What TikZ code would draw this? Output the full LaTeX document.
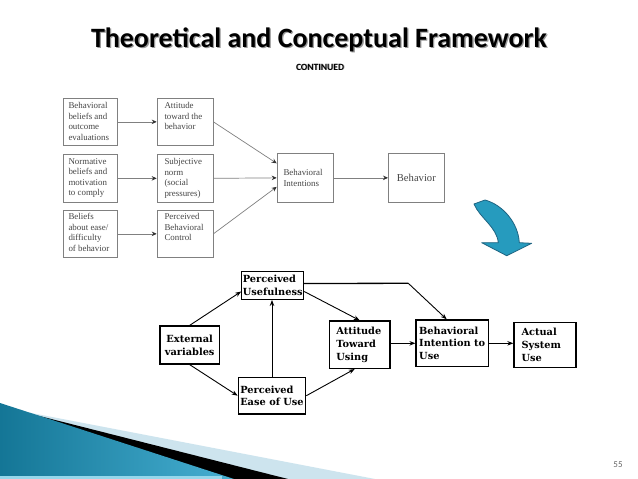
\documentclass[tikz,border=0pt]{standalone}
\usepackage{fontspec}
\setmainfont{Liberation Serif}
\newfontfamily\titlefont{Carlito}
\newfontfamily\boldserif{DejaVu Serif}
\usetikzlibrary{arrows.meta,calc}
\definecolor{arrowblue}{RGB}{38,155,190}
\definecolor{arrowdark}{RGB}{30,100,130}
\definecolor{decodark}{RGB}{20,118,150}
\definecolor{decolight}{RGB}{70,175,210}
\definecolor{decopale}{RGB}{205,228,238}
\definecolor{decocyan}{RGB}{150,215,235}
\definecolor{tgray}{RGB}{128,128,128}
\definecolor{ttxt}{RGB}{70,70,70}
\tikzset{
  tbox/.style={draw=tgray, line width=0.7pt, inner sep=0pt, anchor=north west},
  ttext/.style={font=\fontsize{8.9}{10.4}\selectfont, text=ttxt, align=left, inner sep=0pt, anchor=north west},
  tarr/.style={draw=tgray, line width=0.7pt, -{Stealth[length=5pt,width=4.5pt,color=black!80]}},
  bbox/.style={draw, line width=1.3pt, inner ysep=0pt, inner xsep=1pt, align=left,
    font=\boldserif\bfseries\fontsize{9.8}{12.7}\selectfont},
  barr/.style={line width=0.9pt, -{Stealth[length=6pt,width=4.5pt]}},
}
\begin{document}
\begin{tikzpicture}[x=1pt,y=-1pt]
\useasboundingbox (0,0) rectangle (638,479);
\fill[white] (0,0) rectangle (638,479);

% decoration bottom-left
\fill[decopale] (0,407) -- (375,479) -- (0,479) -- cycle;
\fill[black] (0,406) -- (288,479) -- (0,479) -- cycle;
\shade[left color=decodark, right color=decolight] (0,403) -- (234,479) -- (0,479) -- cycle;
\fill[decocyan] (0,475.5) rectangle (222,479);

% title
\node[font=\titlefont\bfseries\fontsize{28}{30}\selectfont, text=black!40, anchor=base] (titleshadow) at (320.3,48.3) {Theoretical and Conceptual Framework};
\node[font=\titlefont\bfseries\fontsize{28}{30}\selectfont, anchor=base] (title) at (319,47) {Theoretical and Conceptual Framework};
\node[font=\titlefont\bfseries\fontsize{9.5}{11}\selectfont, text=black!35, anchor=base] (contshadow) at (320.8,70.8) {CONTINUED};
\node[font=\titlefont\bfseries\fontsize{9.5}{11}\selectfont, anchor=base] (cont) at (320,70) {CONTINUED};

% top diagram
\node[tbox, minimum width=54pt, minimum height=47pt] (b1) at (62.7,98) {};
\node[ttext] (b1t) at ($(b1.north west)+(5.6,4.5)$) {Behavioral\\beliefs and\\outcome\\evaluations};
\node[tbox, minimum width=56pt, minimum height=47pt] (b2) at (156.7,98) {};
\node[ttext] (b2t) at ($(b2.north west)+(7.6,4.5)$) {Attitude\\toward the\\behavior};
\node[tbox, minimum width=54pt, minimum height=48pt] (n1) at (62.7,154) {};
\node[ttext] (n1t) at ($(n1.north west)+(5.6,4.5)$) {Normative\\beliefs and\\motivation\\to comply};
\node[tbox, minimum width=56pt, minimum height=48pt] (s2) at (156.7,154) {};
\node[ttext] (s2t) at ($(s2.north west)+(7.6,4.5)$) {Subjective\\norm\\(social\\pressures)};
\node[tbox, minimum width=54pt, minimum height=47pt] (c1) at (62.7,210) {};
\node[ttext] (c1t) at ($(c1.north west)+(5.6,3.5)$) {Beliefs\\about ease/\\difficulty\\of behavior};
\node[tbox, minimum width=56pt, minimum height=47pt] (c2) at (156.7,210) {};
\node[ttext] (c2t) at ($(c2.north west)+(7.6,3.5)$) {Perceived\\Behavioral\\Control};
\node[tbox, minimum width=56pt, minimum height=49pt] (bi) at (276.7,153) {};
\node[ttext, anchor=west] (bit) at ($(bi.west)+(6.6,0)$) {Behavioral\\Intentions};
\node[tbox, minimum width=56pt, minimum height=49pt] (beh) at (388,153) {};
\node[ttext, font=\fontsize{10.6}{12}\selectfont, anchor=center] (beht) at (beh.center) {Behavior};

\draw[tarr] (b1.east) -- (b2.west);
\draw[tarr] (n1.east) -- (s2.west);
\draw[tarr] (c1.east) -- (c2.west);
\draw[tarr] (b2.east) -- ([yshift=14.5pt]bi.west);
\draw[tarr] (s2.east) -- (bi.west);
\draw[tarr] (c2.east) -- ([yshift=-9pt]bi.west);
\draw[tarr] (bi.east) -- (beh.west);

% curved blue arrow
\filldraw[fill=arrowblue, draw=arrowdark, line width=0.8pt, line join=round]
  (485,200) .. controls (503.3,205) and (518.3,223.3) .. (519.3,242.7)
  -- (531.7,243.3) -- (506.7,255.7) -- (481.7,242.7) -- (498.3,242.7)
  .. controls (496.7,226.7) and (480,218.3) .. (474,204) -- cycle;

% bottom diagram
\node[bbox, minimum height=27.6pt, minimum width=60pt] (pu) at (272.7,285.5) {Perceived\\Usefulness};
\node[bbox, minimum height=38pt, minimum width=59.3pt, align=center] (ext) at (189.7,345) {External\\variables};
\node[bbox, minimum height=47.3pt, text width=46.7pt, inner xsep=7pt] (atu) at (359.7,344.7) {Attitude\\Toward\\Using};
\node[bbox, minimum height=36.7pt, minimum width=67.4pt] (peou) at (272,395.7) {Perceived\\Ease of Use};
\node[bbox, minimum height=46.7pt, minimum width=72.3pt] (bint) at (452.2,343.3) {Behavioral\\Intention to\\Use};
\node[bbox, minimum height=45pt, text width=47pt, inner xsep=7.5pt] (asu) at (545,344.8) {Actual\\System\\Use};

\coordinate (bend) at (408.3,283.3);
\draw[barr] (ext.north) -- ([yshift=-6pt]pu.west);
\draw[barr] (ext.south) -- (peou.west);
\draw[barr] (peou.north) -- (peou.north |- pu.south);
\draw[barr] ([yshift=-6pt]pu.east) -- (atu.north);
\draw[barr] (peou.east) -- ([xshift=-5pt]atu.south);
\draw[barr] (atu.east |- bint.west) -- (bint.west);
\draw[barr] (bint.east) -- (bint.east -| asu.west);
\draw[line width=1.3pt] ([yshift=2pt]pu.east) -- (bend);
\draw[barr] (bend) -- ([xshift=-5.5pt]bint.north);

% page number
\node[font=\titlefont\fontsize{9}{10}\selectfont, text=black!60] (pnum) at (618,465) {55};
\end{tikzpicture}
\end{document}
